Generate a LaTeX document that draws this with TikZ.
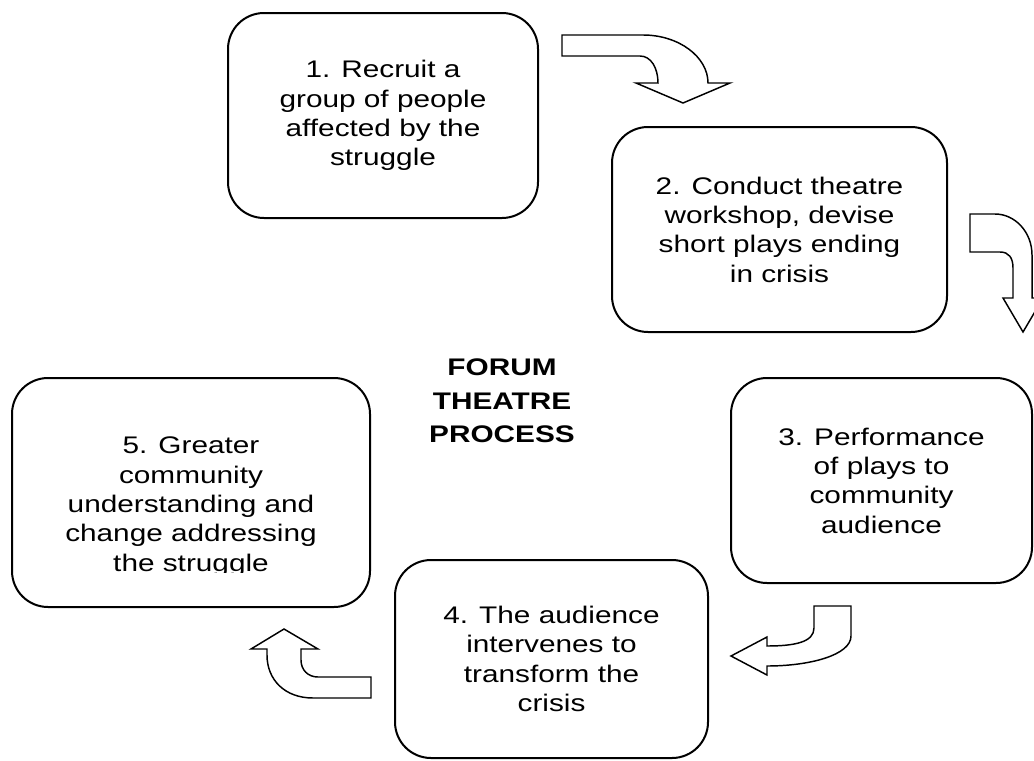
\documentclass[tikz,border=0pt]{standalone}
\usepackage{fontspec}
\setmainfont{Liberation Sans}[FakeStretch=1.24]
\usepackage{tikz}
\tikzset{
  box/.style   = {draw, line width=1.5pt, rounded corners=27pt, inner sep=0pt, align=center,
                  font=\fontsize{18}{22}\selectfont},
  title/.style = {align=center, font=\bfseries\fontsize{18}{25}\selectfont},
  turn/.style  = {draw, line width=1.1pt, fill=white, line join=miter},
}

\begin{document}
\begin{tikzpicture}[x=0.75pt, y=-0.75pt]
    \useasboundingbox (0,0) rectangle (1034,760);
    \clip (0,0) rectangle (1034,760);
    \fill[white] (0,0) rectangle (1034,760);

    \node[box, minimum width=232.5pt, minimum height=153.75pt] (b1) at (383,115.5)
      {1. Recruit a\\ group of people\\ affected by the\\ struggle};
    \node[box, minimum width=251.25pt, minimum height=153.75pt] (b2) at (779.5,229.5)
      {2. Conduct theatre\\ workshop, devise\\ short plays ending\\ in crisis};
    \node[box, minimum width=225.75pt, minimum height=153.75pt] (b3) at (881.5,480.5)
      {3. Performance\\ of plays to\\ community\\ audience};
    \node[box, minimum width=234.75pt, minimum height=148.5pt] (b4) at (551.5,659)
      {4. The audience\\ intervenes to\\ transform the\\ crisis};

    % box 5: last line runs into the lower edge
    \node[box, minimum width=268.5pt, minimum height=171.75pt] (b5) at (191,492.5) {};
    \begin{scope}
      \clip (12,378) rectangle (370,572);
      \node[box, draw=none, anchor=south] (t5) at (191,577)
        {5. Greater\\ community\\ understanding and\\ change addressing\\ the struggle};
    \end{scope}

    \node[title] (head) at (502,401) {FORUM\\ THEATRE\\ PROCESS};

    % bent block arrows between the steps
    \draw[turn] (562,35) -- (643,35) .. controls (679,35) and (708,57) .. (708,83)
      -- (730,83) -- (683,103) -- (636,83) -- (658,83)
      .. controls (658,68) and (651,56) .. (640,56) -- (562,56) -- cycle;
    \draw[turn] (970,214) -- (995,214) .. controls (1015,214) and (1032,232) .. (1032,255)
      -- (1032,298) -- (1043,298) -- (1023,332) -- (1003,298) -- (1013,298) -- (1013,268)
      .. controls (1013,258) and (1009,252) .. (1000,252) -- (970,252) -- cycle;
    \draw[turn] (814,606) -- (851,606) -- (851,636)
      .. controls (851,655) and (810,666) .. (767,666) -- (767,675) -- (731,656)
      -- (767,637) -- (767,646) .. controls (795,646) and (814,642) .. (814,628) -- cycle;
    \draw[turn] (284,629) -- (318,649) -- (301,649) -- (301,660)
      .. controls (301,670) and (308,677) .. (318,677) -- (371,677) -- (371,698)
      -- (313,698) .. controls (285,698) and (267,680) .. (267,655) -- (267,649)
      -- (251,649) -- cycle;
\end{tikzpicture}
\end{document}
